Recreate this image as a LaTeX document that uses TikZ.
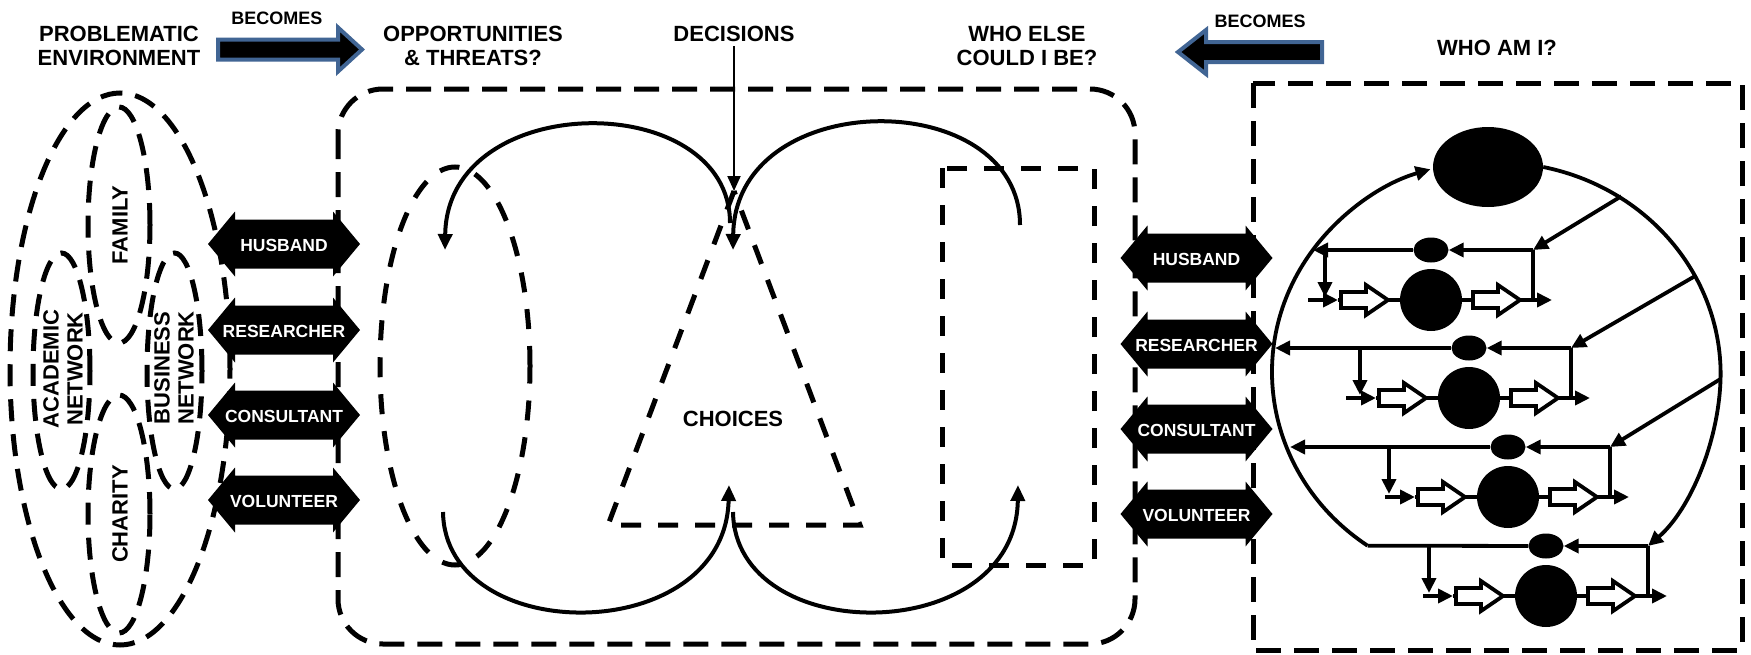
\documentclass[tikz,border=0pt]{standalone}
\usepackage{fontspec}
\setmainfont{Liberation Sans}
\usetikzlibrary{arrows.meta, calc, shapes.geometric}

\definecolor{becomesblue}{RGB}{65,101,148}

\tikzset{
  pics/rolebar/.style={code={
    \fill (-76,0) -- (-49,-32.5) -- (-49,-24.5) -- (49,-24.5) -- (49,-32.5)
      -- (76,0) -- (49,32.5) -- (49,24.5) -- (-49,24.5) -- (-49,32.5) -- cycle;
    \node[role] (-t) at (0,1) {#1};
  }},
  pics/hollow/.style={code={
    \draw[line width=3.8pt, fill=white] (-24,-8) -- (1,-8) -- (1,-15)
      -- (23,0) -- (1,15) -- (1,8) -- (-24,8) -- cycle;
  }}
}

\begin{document}
\begin{tikzpicture}[x=1pt, y=-1pt,
  title/.style={font=\fontsize{22}{24}\selectfont\bfseries, align=center, inner sep=0pt},
  tag/.style={font=\fontsize{18}{20}\selectfont\bfseries, inner sep=0pt},
  role/.style={font=\fontsize{17.5}{19}\selectfont\bfseries, text=white, inner sep=0pt},
  ring/.style={line width=5pt, dash pattern=on 22pt off 13pt},
  framebox/.style={line width=5pt, dash pattern=on 25pt off 13pt},
  guide/.style={line width=5pt, dash pattern=on 20pt off 17pt},
  loopline/.style={line width=4pt, -{Triangle[length=16pt,width=14pt]}},
  becomes/.style={draw=becomesblue, fill=black, line width=4pt},
  net/.style={line width=3.8pt},
  netarrow/.style={net, -{Triangle[length=15pt,width=14pt]}},
  knot/.style={circle, fill=black, minimum size=62pt, inner sep=0pt},
  cell/.style={ellipse, fill=black, minimum width=35pt, minimum height=25pt, inner sep=0pt}
]

\fill[white] (0,0) rectangle (1751,654);
\useasboundingbox (0,0) rectangle (1751,654);

% headings along the top
\node[title] (env) at (119,45.5) {PROBLEMATIC\\ENVIRONMENT};
\node[tag] (becomesL) at (277,18.5) {BECOMES};
\node[title] (opps) at (473,45.5) {OPPORTUNITIES\\\& THREATS?};
\node[title] (decisions) at (734,33.5) {DECISIONS};
\node[title] (whoelse) at (1027,45.5) {WHO ELSE\\COULD I BE?};
\node[tag] (becomesR) at (1260,21.5) {BECOMES};
\node[title] (whoami) at (1497,47.5) {WHO AM I?};

% the two BECOMES block arrows
\draw[becomes] (218,39.5) -- (338,39.5) -- (338,27.5) -- (362,49.5) -- (338,71.5)
  -- (338,59.5) -- (218,59.5) -- cycle;
\draw[becomes] (1322,42) -- (1206,42) -- (1206,30) -- (1178,52) -- (1206,74)
  -- (1206,62) -- (1322,62) -- cycle;

% problematic environment: overlapping dashed ellipses
\draw[ring] (120,369) ellipse [x radius=110pt, y radius=276pt];
\draw[ring] (119,225) ellipse [x radius=31pt, y radius=118pt];
\draw[ring] (119,514) ellipse [x radius=31pt, y radius=119pt];
\draw[ring] (61.5,371) ellipse [x radius=28.5pt, y radius=118pt];
\draw[ring] (174.5,371) ellipse [x radius=27.5pt, y radius=118pt];
\node[title, rotate=90] (family) at (120,225) {FAMILY};
\node[title, rotate=90] (academic) at (63,369) {ACADEMIC\\NETWORK};
\node[title, rotate=90] (business) at (174,368) {BUSINESS\\NETWORK};
\node[title, rotate=90] (charity) at (120,514) {CHARITY};

% opportunities & threats: rounded frame with loops
\draw[framebox, rounded corners=45pt] (338,89) rectangle (1135,644);
\coordinate (apex) at (734,191);
\draw[guide] (455,366) ellipse [x radius=75pt, y radius=199pt];
\draw[guide] (apex) -- (608,525) -- (860,525) -- cycle;
\draw[guide] (942,168) rectangle (1094,565);
\node[title] (choices) at (733,419) {CHOICES};

\draw[loopline] (730,223) .. controls (730,88) and (447,88) .. (445,250);
\draw[loopline] (443,512) .. controls (445,648) and (725,648) .. (729,485);
\draw[loopline] (1020,225) .. controls (1020,85) and (735,85) .. (733,250);
\draw[loopline] (733,512) .. controls (735,648) and (1016,648) .. (1018,485);
\draw[line width=2pt, -{Triangle[length=15pt,width=13pt]}]
  ([yshift=-5pt]decisions.south) -- (apex);

% who am I: dashed frame
\draw[framebox] (1253,83) rectangle (1742,650);

% roles on both sides
\foreach \n/\y/\lbl in {1/244/HUSBAND, 2/330/RESEARCHER, 3/415/CONSULTANT, 4/500/VOLUNTEER}{
  \pic (roleL\n) at (284,\y) {rolebar=\lbl};
  \pic (roleR\n) at (1196.5,\y+14) {rolebar=\lbl};
}

% self network: four rows below the core
\coordinate (cc) at (1496,372);
\node[ellipse, fill=black, minimum width=110pt, minimum height=80pt] (core) at (1488,167) {};
\foreach \k/\cx/\yr/\xv in {1/1431/250/1325, 2/1469/348/1360, 3/1508/447/1389, 4/1546/546/1429}{
  \draw[netarrow] (\cx-123,\yr+50) -- (\cx-93,\yr+50);
  \draw[netarrow] (\cx-93,\yr+50) -- (\cx+121,\yr+50);
  \pic at (\cx-66,\yr+50) {hollow};
  \pic at (\cx+66,\yr+50) {hollow};
  \node[knot] (b\k) at (\cx,\yr+50) {};
  \node[cell] (s\k) at (\cx,\yr) {};
  \coordinate (c\k) at (\cx+102,\yr);
  \draw[net] (\cx+102,\yr+50) -- (c\k);
  \draw[netarrow] (c\k) -- (s\k);
  \draw[netarrow] (\xv,\yr) -- (\xv,\yr+47);
}
\foreach \k/\yr/\xl in {1/250/1313, 2/348/1275, 3/447/1290}
  \draw[netarrow] (s\k) -- (\xl,\yr);
\coordinate (rim4) at ($(cc)+(235:224pt and 212pt)$);
\draw[net] (s4) -- (rim4);

% outline of the self, with feeds into each row
\draw[netarrow] (rim4) arc [start angle=235, end angle=107, x radius=224pt, y radius=212pt];
\draw[netarrow] (core.east) arc [start angle=78, end angle=0, x radius=224pt, y radius=212pt]
  .. controls (1720,440) and (1690,510) .. (c4);
\foreach \k/\a in {1/56, 2/27, 3/-2}
  \draw[netarrow] ($(cc)+(\a:224pt and 212pt)$) -- (c\k);

\end{tikzpicture}
\end{document}
